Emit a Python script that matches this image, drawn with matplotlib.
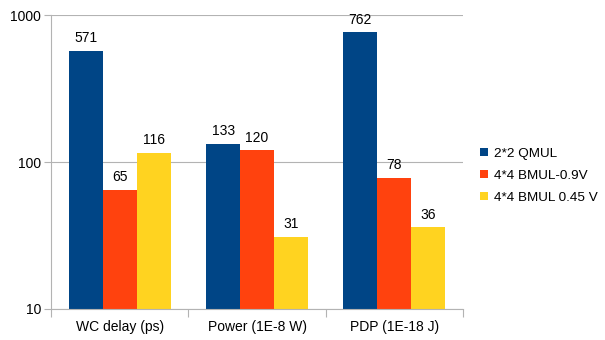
import matplotlib.pyplot as plt
import numpy as np

plt.rcParams['font.family'] = ['Liberation Sans', 'DejaVu Sans']

# Data
categories = ['WC delay (ps)', 'Power (1E-8 W)', 'PDP (1E-18 J)']
series_names = ['2*2 QMUL', '4*4 BMUL-0.9V', '4*4 BMUL 0.45 V']
qmul = [571, 133, 762]
bmul_09 = [65, 120, 78]
bmul_045 = [116, 31, 36]
colors = ['#004586', '#ff420e', '#ffd320']

fig = plt.figure(figsize=(6.05, 3.4), dpi=100)
ax = fig.add_axes([0.0843, 0.0912, 0.681, 0.8645])

x = np.arange(len(categories))
width = 0.247
for i, (vals, name, c) in enumerate(zip([qmul, bmul_09, bmul_045], series_names, colors)):
    pos = x + (i - 1) * width
    ax.bar(pos, vals, width=width, color=c, label=name, zorder=2)
    for p, v in zip(pos, vals):
        ax.annotate(str(v), (p, v), xytext=(0, 4), textcoords='offset points',
                    ha='center', va='bottom', fontsize=10)

ax.set_yscale('log')
ax.set_ylim(10, 1000)
ax.set_xlim(-0.5, len(categories) - 0.5)
ax.set_yticks([10, 100, 1000])
ax.set_yticklabels(['10', '100', '1000'])
ax.yaxis.set_minor_locator(plt.NullLocator())
ax.grid(axis='y', color='#b3b3b3', linewidth=0.8, zorder=0)

# category boundary ticks
ax.set_xticks(np.arange(-0.5, len(categories)), minor=False)
ax.set_xticklabels([])
ax.set_xticks(x, minor=True)
ax.set_xticklabels(categories, minor=True, fontsize=10)
ax.tick_params(axis='x', which='minor', length=0, pad=8)
ax.tick_params(axis='x', which='major', length=6, color='#b3b3b3')
ax.tick_params(axis='y', length=5, color='#b3b3b3', labelsize=10, pad=2)

for s in ['top', 'right']:
    ax.spines[s].set_visible(False)
for s in ['left', 'bottom']:
    ax.spines[s].set_color('#b3b3b3')
    ax.spines[s].set_linewidth(0.8)

fig.legend(loc='center left', bbox_to_anchor=(0.793, 0.483), frameon=False,
           fontsize=9.7, handlelength=0.6, handleheight=0.6, handletextpad=0.45,
           labelspacing=0.75, borderaxespad=0, borderpad=0)

fig.savefig('out.png', dpi=100)
